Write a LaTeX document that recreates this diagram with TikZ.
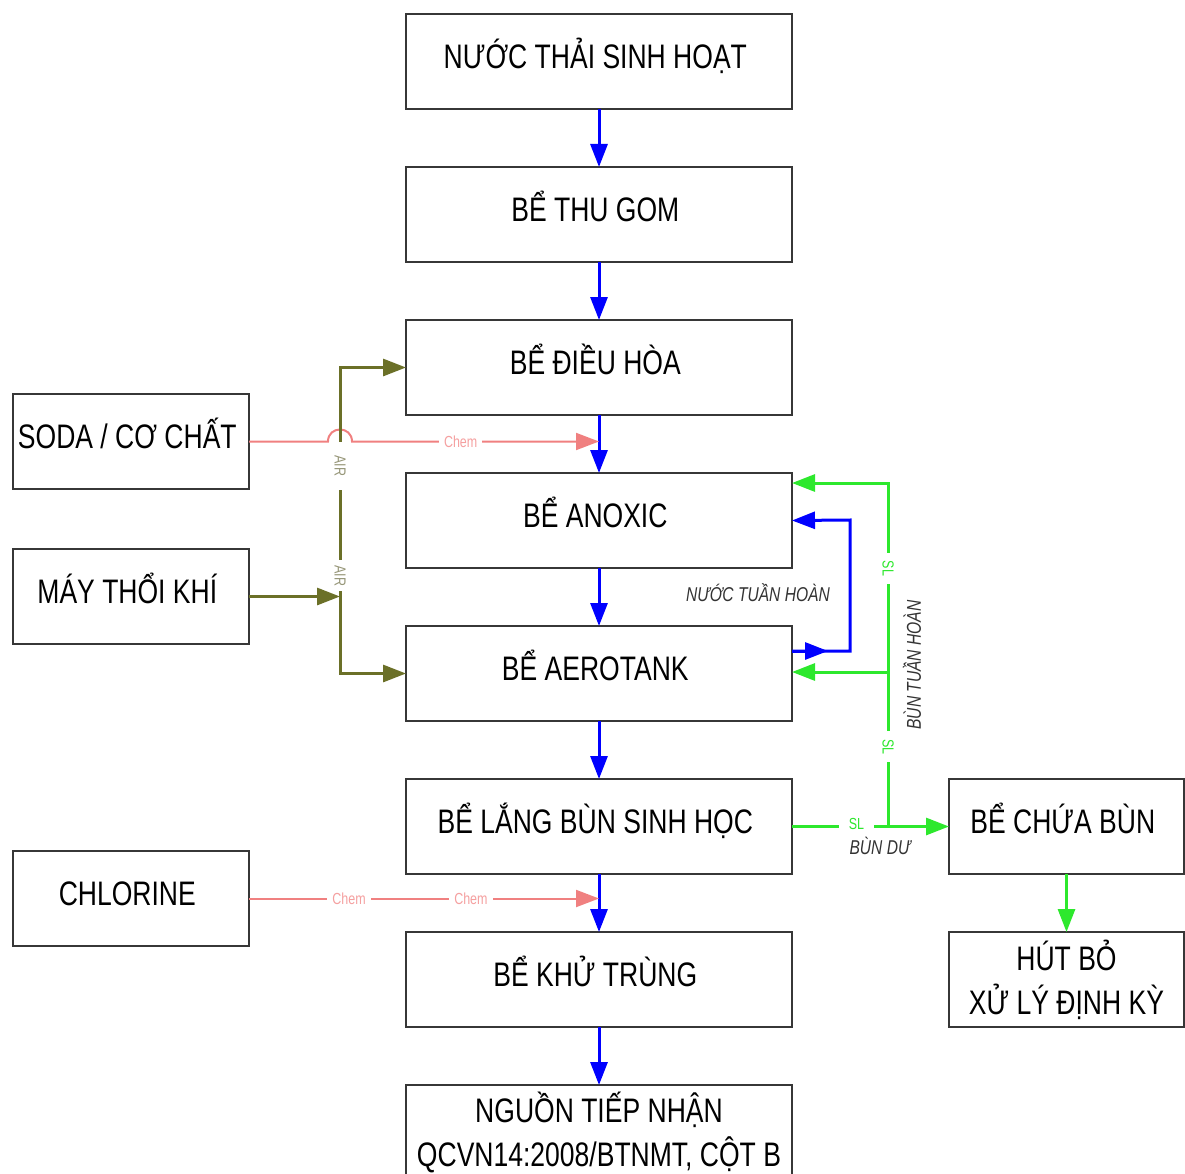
\documentclass[tikz,border=0pt]{standalone}
\usepackage{fontspec}
\setmainfont{Liberation Sans}[FakeStretch=0.78]
\usetikzlibrary{positioning,arrows.meta}
\definecolor{airolive}{RGB}{107,112,40}
\definecolor{airtext}{RGB}{150,150,120}
\definecolor{chemline}{RGB}{240,128,128}
\definecolor{chemtext}{RGB}{245,160,160}
\definecolor{slgreen}{RGB}{45,232,45}
\definecolor{boxline}{RGB}{55,55,55}

\begin{document}
\begin{tikzpicture}[x=1pt, y=-1pt, node distance = 58pt,
	block/.style = { rectangle, draw=boxline, line width=1.5pt, fill=white,
	outer sep=0pt, minimum width=386pt, minimum height=95pt, align=center,
	text height=24pt, text depth=10pt, font=\fontsize{34}{44}\selectfont },
	twoline/.style = { text height=, text depth= },
	sidebox/.style = { block, minimum width=236pt },
	tip/.style = { -{Triangle[length=23pt,width=17pt]} },
	flow/.style = { tip, blue, line width=3pt },
	air/.style = { airolive, line width=3pt },
	chem/.style = { chemline, line width=2pt },
	sl/.style = { slgreen, line width=3pt },
	tag/.style = { fill=white, inner sep=5pt, font=\fontsize{16}{16}\selectfont },
	note/.style = { text=black!80, font=\fontsize{20}{20}\selectfont\itshape } ]

  \useasboundingbox (0,0) rectangle (1185,1174);

  % main line
  \node [name=b1, block] at (599,61.5) { NƯỚC THẢI SINH HOẠT };
  \node [name=b2, block, below=of b1] { BỂ THU GOM };
  \node [name=b3, block, below=of b2] { BỂ ĐIỀU HÒA };
  \node [name=b4, block, below=of b3] { BỂ ANOXIC };
  \node [name=b5, block, below=of b4] { BỂ AEROTANK };
  \node [name=b6, block, below=of b5] { BỂ LẮNG BÙN SINH HỌC };
  \node [name=b7, block, below=of b6] { BỂ KHỬ TRÙNG };
  \node [name=b8, block, twoline, below=of b7] { NGUỒN TIẾP NHẬN\\QCVN14:2008/BTNMT, CỘT B };

  % side boxes
  \node [name=soda, sidebox] at (131,441.5) { SODA / CƠ CHẤT };
  \node [name=blower, sidebox] at (131,596.5) { MÁY THỔI KHÍ };
  \node [name=chlorine, sidebox] at (131,898.5) { CHLORINE };
  \node [name=sludge, sidebox, minimum width=235pt, right=157pt of b6] { BỂ CHỨA BÙN };
  \node [name=hutbo, sidebox, twoline, minimum width=235pt, below=of sludge] { HÚT BỎ\\XỬ LÝ ĐỊNH KỲ };

  \coordinate (chemin) at (b3.south |- soda.east);
  \coordinate (clin) at (b6.south |- chlorine.east);
  \coordinate (airjoin) at (340,596.5);
  \coordinate (nthA) at (850,651);
  \coordinate (nthB) at (850,520);
  \coordinate (slx) at (888,825.5);
  \coordinate (sltop) at (888,483);
  \coordinate (slmid) at (888,672);

  % water
  \foreach \a/\b in {b1/b2, b2/b3, b3/b4, b4/b5, b5/b6, b6/b7, b7/b8}
	\draw [flow] (\a) -- (\b);

  % chemicals
  \draw [chem, tip] (soda.east) -- (328,441.5)
	.. controls (328,425.5) and (352,425.5) .. (352,441.5)
	-- node [tag, text=chemtext, pos=0.44] {Chem} (chemin);
  \draw [chem, tip] (chlorine.east)
	-- node [tag, text=chemtext, pos=0.286] {Chem}
	node [tag, text=chemtext, pos=0.634] {Chem} (clin);

  % air
  \draw [air, tip] (blower.east) -- (airjoin);
  \draw [air, tip] (airjoin)
	-- node [tag, text=airtext, rotate=-90, pos=0.09] {AIR}
	node [tag, text=airtext, rotate=-90, pos=0.57, inner xsep=14pt] {AIR}
	(airjoin |- b3.west) -- (b3.west);
  \draw [air, tip] (airjoin) -- (airjoin |- b5.west) -- (b5.west);

  % recirculation
  \draw [flow] (nthA -| b5.east) -- ++(36,0);
  \draw [flow] (nthA -| b5.east) -- (nthA) -- (nthB) -- (b4.east);
  \node [name=nthlabel, note] at (758,593) { NƯỚC TUẦN HOÀN };

  % sludge
  \draw [sl, tip] (b6.east) -- node [tag, text=slgreen, pos=0.41,
	inner xsep=10pt, inner ysep=1pt, yshift=3pt] {SL} (sludge.west);
  \draw [sl, tip] (slx)
	-- node [tag, text=slgreen, rotate=-90, pos=0.23, inner xsep=8pt] {SL}
	node [tag, text=slgreen, rotate=-90, pos=0.75, inner xsep=8pt] {SL}
	(sltop) -- (sltop -| b4.east);
  \draw [sl, tip] (slmid) -- (slmid -| b5.east);
  \draw [sl, tip] (sludge) -- (hutbo);
  \node [name=btlabel, note, rotate=90] at (912,665) { BÙN TUẦN HOÀN };
  \node [name=dulabel, note] at (880,846) { BÙN DƯ };
\end{tikzpicture}
\end{document}
